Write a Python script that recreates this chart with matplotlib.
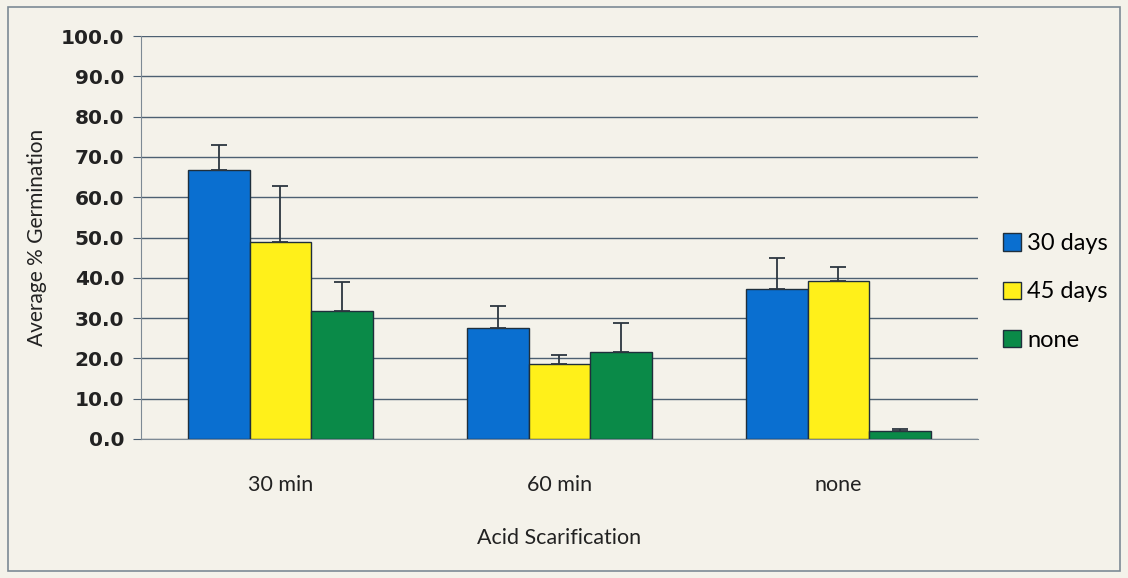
import numpy as np
import matplotlib
matplotlib.use("Agg")
import matplotlib.pyplot as plt
from matplotlib.patches import Rectangle

# data
categories = ["30 min", "60 min", "none"]
series_names = ["30 days", "45 days", "none"]
values = {
    "30 days": [66.7, 27.5, 37.2],
    "45 days": [48.9, 18.6, 39.2],
    "none":    [31.8, 21.6, 2.0],
}
errors = {
    "30 days": [6.3, 5.5, 7.7],
    "45 days": [13.9, 2.2, 3.5],
    "none":    [7.2, 7.2, 0.5],
}
colors = {"30 days": "#0a6fd0", "45 days": "#fff01a", "none": "#0a8a48"}
yticks = np.arange(0, 101, 10)

BG = "#f4f2ea"
GRID = "#4d6072"

fig = plt.figure(figsize=(11.28, 5.78), dpi=100, facecolor=BG)
ax = fig.add_axes([0.125, 0.2405, 0.742, 0.6972], facecolor=BG)

# outer chart border
fig.patches.append(Rectangle((0.007, 0.012), 0.986, 0.976, transform=fig.transFigure,
                             fill=False, edgecolor="#7d8a95", linewidth=1.2))

x = np.arange(len(categories))
w = 0.222
for i, name in enumerate(series_names):
    pos = x + (i - 1) * w
    ax.bar(pos, values[name], w, color=colors[name], edgecolor="#1f2f3c",
           linewidth=1.0, label=name, zorder=3)
    ax.errorbar(pos, values[name], yerr=[np.zeros(3), errors[name]], fmt="none",
                ecolor="#2c3640", elinewidth=1.3, capsize=6, capthick=1.3, zorder=4)

ax.set_xlim(-0.5, 2.5)
ax.set_ylim(0, 100)
ax.set_yticks(yticks)
ax.set_yticklabels([f"{v:.1f}" for v in yticks], fontfamily="DejaVu Sans",
                   fontweight="bold", fontsize=14.5, color="#222222")
ax.set_xticks(x)
ax.set_xticklabels(categories, fontfamily="Lato", fontsize=15.5, color="#222222")
ax.tick_params(axis="x", length=0, pad=26)
ax.tick_params(axis="y", length=6, color=GRID, pad=6)

ax.yaxis.grid(True, color=GRID, linewidth=1.0, zorder=0)
for s in ["top", "right"]:
    ax.spines[s].set_visible(False)
ax.spines["left"].set_color("#7d8a95")
ax.spines["bottom"].set_color("#7d8a95")

ax.set_ylabel("Average % Germination", fontfamily="Lato", fontsize=15,
              color="#222222", labelpad=10)
ax.set_xlabel("Acid Scarification", fontfamily="Lato", fontsize=15.5,
              color="#222222", labelpad=24)

leg = ax.legend(loc="center left", bbox_to_anchor=(1.005, 0.365), frameon=False,
                prop={"family": "Lato", "size": 17}, handlelength=0.75,
                handleheight=0.75, handletextpad=0.25, labelspacing=1.15)

fig.savefig("out.png", dpi=100, facecolor=BG)
